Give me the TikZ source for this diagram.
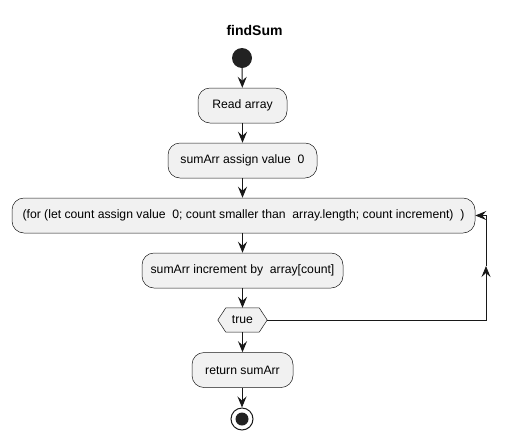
\documentclass[tikz,border=0pt]{standalone}
\usepackage{fontspec}
\setmainfont{Liberation Sans}
\usetikzlibrary{arrows.meta}
\definecolor{lineC}{HTML}{181818}
\definecolor{boxF}{HTML}{F1F1F1}
\definecolor{startC}{HTML}{222222}
\begin{document}
\begin{tikzpicture}[x=1pt,y=-1pt,
  act/.style={draw=lineC, line width=0.5pt, fill=boxF, rounded corners=12pt,
    minimum height=35pt, inner sep=0pt, font=\fontsize{12.2}{14}\selectfont},
  conn/.style={draw=lineC, line width=1pt, -{Stealth[length=11pt,width=9pt,inset=4pt]}},
  plainline/.style={draw=lineC, line width=1pt}]
\useasboundingbox (0,0) rectangle (511,440);
\node[font=\bfseries\fontsize{14}{16}\selectfont] (title) at (254.5,30) {findSum};
\node[circle, fill=startC, minimum size=20pt, inner sep=0pt] (start) at (242,58) {};
\node[act, minimum width=89pt] (read) at (242.5,105.5) {Read array};
\node[act, minimum width=149pt] (assign) at (242.5,160.5) {sumArr assign value\ \ 0};
\node[act, minimum width=463pt] (for) at (243.5,215.5) {(for (let count assign value\ \ 0; count smaller than\ \ array.length; count increment)\ \ )};
\node[act, minimum width=201pt] (inc) at (242.5,270.5) {sumArr increment by\ \ array[count]};
\node[minimum width=49pt, minimum height=24pt, inner sep=0pt] (true) at (242.5,320) {};
\draw[lineC, line width=0.5pt, fill=boxF] (true.west) -- ([xshift=8pt]true.north west) -- ([xshift=-8pt]true.north east) -- (true.east) -- ([xshift=-8pt]true.south east) -- ([xshift=8pt]true.south west) -- cycle;
\node[font=\fontsize{12.2}{14}\selectfont] (truetext) at (true.center) {true};
\node[act, minimum width=101pt] (ret) at (242.5,370) {return sumArr};
\node[circle, draw=lineC, line width=1pt, minimum size=22pt, inner sep=0pt] (end) at (242,419) {};
\fill[startC] (end.center) circle (6.5pt);
\draw[conn] (start) -- (read);
\draw[conn] (read) -- (assign);
\draw[conn] (assign) -- (for.north -| assign.south);
\draw[conn] (for.south -| inc.north) -- (inc);
\draw[conn] (inc) -- (true.north -| inc.south);
\draw[conn] (true.south -| ret.north) -- (ret);
\draw[conn] (ret.south -| end.north) -- (end);
\coordinate (c1) at (486,320);
\coordinate (mid) at (486,266);
\draw[conn] (true.east) -- (c1) -- (mid);
\draw[conn] (mid) -- (c1 |- for.east) -- (for.east);
\end{tikzpicture}
\end{document}
